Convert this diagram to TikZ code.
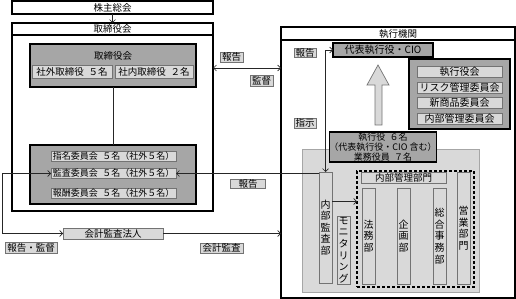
\documentclass[tikz,border=0pt]{standalone}
\usepackage{fontspec}
\newfontfamily\jpfont{Noto Sans CJK JP}
\usetikzlibrary{arrows.meta}

\begin{document}
\begin{tikzpicture}[x=1pt, y=-1pt, >={Straight Barb[length=3pt,width=6pt]},
  every node/.style={inner sep=0pt, outer sep=0pt, font=\jpfont\fontsize{9.5}{11}\selectfont},
  frame/.style={draw=black, line width=1.1pt, fill=white},
  panel/.style={draw=black, line width=1.2pt, fill=black!35},
  item/.style={draw=black!55, line width=0.7pt, fill=black!15},
  tag/.style={draw=black!55, line width=0.7pt, fill=black!15},
  vtext/.style={item, align=center, font=\jpfont\fontsize{10}{11.6}\selectfont},
  link/.style={black!85, line width=0.6pt}]
        \useasboundingbox (0,0) rectangle (516,299);
        % board side
        \node[frame, minimum width=201pt, minimum height=13pt] (gm) at (112.5,7.5) {株主総会};
        \node[frame, minimum width=201pt, minimum height=188pt] (bodframe) at (112.5,117) {};
        \node[frame, minimum width=201pt, minimum height=12pt] (bodtitle) at (112.5,29) {取締役会};
        \node[panel, minimum width=166pt, minimum height=43pt] (bodpanel) at (113,65.5) {};
        \node (bodname) at (113,56) {取締役会};
        \node[item, minimum width=80pt, minimum height=13pt] (outdir) at (72,71.5) {社外取締役\hspace{.5em}５名};
        \node[item, minimum width=78pt, minimum height=13pt] (indir) at (154,71.5) {社内取締役\hspace{.5em}２名};
        \node[panel, minimum width=166pt, minimum height=59pt] (cmtpanel) at (113,174.5) {};
        \tikzset{every node/.append style={font=\jpfont\fontsize{9}{11}\selectfont}}
        \node[item, minimum width=125pt, minimum height=10pt] (nom) at (113.5,156) {指名委員会\hspace{.5em}５名（社外５名）};
        \node[item, minimum width=125pt, minimum height=10pt] (aud) at (113.5,173.5) {監査委員会\hspace{.5em}５名（社外５名）};
        \node[item, minimum width=125pt, minimum height=10pt] (rem) at (113.5,193) {報酬委員会\hspace{.5em}５名（社外５名）};
        \tikzset{every node/.append style={font=\jpfont\fontsize{9.5}{11}\selectfont}}
        \node[item, minimum width=100pt, minimum height=11pt] (auditor) at (113,233.5) {会計監査法人};
        \node[tag, minimum width=52pt, minimum height=11pt] (tagrs) at (31,247.5) {報告・監督};
        \node[tag, minimum width=43pt, minimum height=10pt] (tagaa) at (221.5,248) {会計監査};
        \node[tag, minimum width=23pt, minimum height=10pt] (tagrb) at (231.5,57) {報告};
        \node[tag, minimum width=23pt, minimum height=11pt] (tagsv) at (261.5,81) {監督};
        \node[tag, minimum width=35pt, minimum height=9pt] (tagra) at (248,183.5) {報告};

        % executive side
        \node[frame, minimum width=234pt, minimum height=271pt] (execframe) at (398,162.5) {};
        \node[frame, minimum width=234pt, minimum height=13pt] (exectitle) at (398,33.5) {執行機関};
        \node[panel, minimum width=100pt, minimum height=14pt, font=\jpfont\fontsize{10}{11}\selectfont]
          (ceo) at (383,50) {代表執行役・CIO};
        \draw[black!55, fill=black!15, line width=0.7pt] (375,125) -- (375,85) -- (367,85) -- (378,65)
          -- (389,85) -- (382,85) -- (382,125) -- cycle;
        \node[panel, minimum width=101pt, minimum height=70pt] (cmtx) at (459.5,94) {};
        \tikzset{every node/.append style={font=\jpfont\fontsize{10}{11}\selectfont}}
        \node[item, minimum width=85pt, minimum height=11pt] (exmeet) at (459.5,71.5) {執行役会};
        \node[item, minimum width=85pt, minimum height=11pt] (risk) at (459.5,87.5) {リスク管理委員会};
        \node[item, minimum width=85pt, minimum height=11pt] (prod) at (459.5,102.5) {新商品委員会};
        \node[item, minimum width=85pt, minimum height=11pt] (ictl) at (459.5,118.5) {内部管理委員会};
        \tikzset{every node/.append style={font=\jpfont\fontsize{9.5}{11}\selectfont}}
        \node[tag, minimum width=22pt, minimum height=9pt] (tagrc) at (305,52.5) {報告};
        \node[tag, minimum width=22pt, minimum height=10pt] (tagin) at (305,123) {指示};
        \node[draw=black!35, fill=black!15, minimum width=177pt, minimum height=143pt] (base) at (390.5,220.5) {};
        \node[panel, minimum width=100pt, minimum height=30pt, align=center,
          font=\jpfont\fontsize{9}{9.8}\selectfont] (officers) at (383,147)
          {執行役\hspace{.5em}６名\\（代表執行役・CIO 含む）\\業務役員\hspace{.5em}７名};
        \node[vtext, minimum width=13pt, minimum height=111pt] (iad) at (325.5,227.5) {内\\部\\監\\査\\部};
        \node[vtext, minimum width=13pt, minimum height=68pt] (mon) at (343.5,250) {モ\\ニ\\タ\\リ\\ン\\グ};
        \node[draw=black, line width=1.2pt, dash pattern=on 3pt off 2pt, minimum width=117pt,
          minimum height=116pt] (mgmt) at (415.5,229) {};
        \node[item, minimum width=85pt, minimum height=11pt] (imd) at (403.5,178) {内部管理部門};
        \node[vtext, minimum width=13pt, minimum height=96pt] (legal) at (368.5,236) {法\\務\\部};
        \node[vtext, minimum width=13pt, minimum height=96pt] (plan) at (403.5,236) {企\\画\\部};
        \node[vtext, minimum width=13pt, minimum height=96pt] (gen) at (439.5,236) {総\\合\\事\\務\\部};
        \node[vtext, minimum width=13pt, minimum height=112pt] (sales) at (463.5,228) {営\\業\\部\\門};

        % connectors
        \draw[link, ->] (gm) -- (bodframe.north);
        \draw[link] (bodpanel) -- (cmtpanel);
        \coordinate (bodport) at (bodframe.east |- 0,68);
        \draw[link, <->] (bodport) -- (bodport -| execframe.west);
        \draw[link, ->] (aud.east -| iad.west) -- (aud.east);
        \coordinate (leftrail) at (2,0);
        \draw[link, <->] (aud.west) -| (leftrail |- auditor.west) -- (auditor.west);
        \draw[link, ->] (auditor.east) -- (auditor.east -| execframe.west);
        \draw[link, <->] (iad.north) |- (ceo.west);
        \coordinate (iadport) at ([yshift=26pt]iad.east);
        \draw[link, ->] (iadport) -- (iadport -| mgmt.west);
      \end{tikzpicture}
\end{document}
